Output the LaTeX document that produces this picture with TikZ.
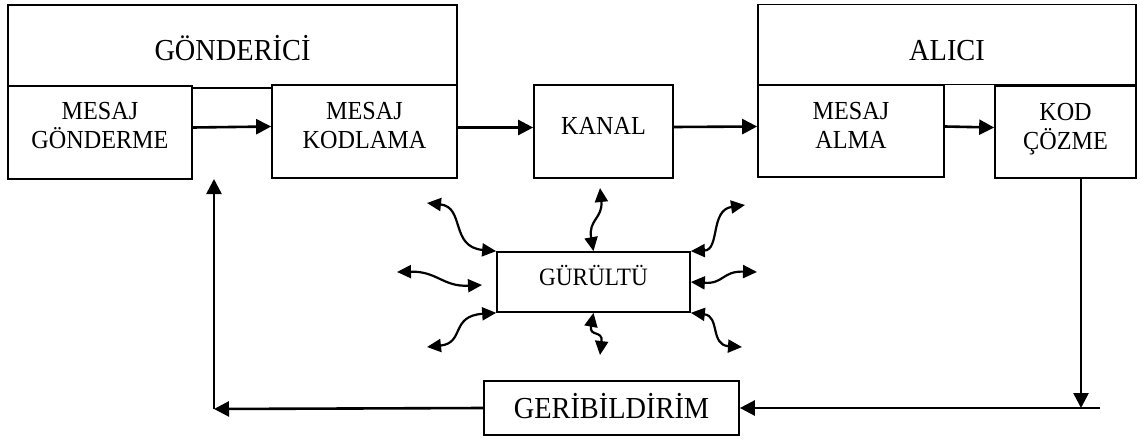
\documentclass[tikz,border=0pt]{standalone}
\usepackage{fontspec}
\setmainfont{Liberation Serif}[FakeStretch=0.93]
\usetikzlibrary{positioning,arrows.meta}

\begin{document}
\begin{tikzpicture}[
    x=1pt,y=-1pt,
    box/.style={rectangle,draw,line width=1.7pt,inner sep=0pt,align=center,font=\fontsize{26}{29}\selectfont},
    bigbox/.style={box,font=\fontsize{30.5}{34}\selectfont},
    arrow/.style={-{Triangle[length=15pt,width=15pt]},line width=2.6pt},
    noisy/.style={{Triangle[length=14pt,width=13pt]}-{Triangle[length=14pt,width=13pt]},line width=2.2pt},
]
\useasboundingbox (0,0) rectangle (1143,439);

% ===== Sender =====
\node[bigbox,minimum width=449pt,minimum height=83pt,text height=27pt,text depth=0pt] (sender) at (232.5,46.5) {GÖNDERİCİ};
\node[box,fill=white,minimum width=184pt,minimum height=93pt,text depth=14pt] (send) at (100,132.5) {MESAJ\\GÖNDERME};
\node[box,fill=white,minimum width=185pt,minimum height=93pt,text depth=12pt] (encode) at (364.5,131.5) {MESAJ\\KODLAMA};

% ===== Channel =====
\node[box,minimum width=139pt,minimum height=93pt,text height=17pt,text depth=12pt] (channel) at (603.5,131.5) {KANAL};

% ===== Receiver =====
\node[bigbox,minimum width=378pt,minimum height=80pt,text height=32pt,text depth=0pt] (receiver) at (947,44.5) {ALICI};
\node[box,fill=white,minimum width=186pt,minimum height=92pt,text depth=12pt] (receive) at (851,131) {MESAJ\\ALMA};
\node[box,fill=white,minimum width=141pt,minimum height=92pt,text depth=12pt] (decode) at (1065.5,132) {KOD\\ÇÖZME};

% ===== Noise and feedback =====
\node[box,font=\fontsize{25}{29}\selectfont,minimum width=193pt,minimum height=60pt,text height=16.5pt,text depth=9pt] (noise) at (593.5,282) {GÜRÜLTÜ};
\node[bigbox,minimum width=255pt,minimum height=54pt,text height=20pt,text depth=0pt] (feedback) at (611.5,408) {GERİBİLDİRİM};

% Main chain
\draw[arrow] ([yshift=5pt]send.east) -- ([yshift=5pt]encode.west);
\draw[arrow] ([yshift=4pt]encode.east) -- ([yshift=4pt]channel.west);
\draw[arrow] ([yshift=4.5pt]channel.east) -- ([yshift=4.5pt]receive.west);
\draw[arrow] ([yshift=4.5pt]receive.east) -- ([yshift=4.5pt]decode.west);

% Feedback loop
\coordinate (fbjoin) at (1081,408);
\coordinate (fbend) at (1100,408);
\coordinate (fbcorner) at (214,409);
\coordinate (fbtop) at (214,179);
\draw[arrow] ([xshift=15.5pt]decode.south) -- (fbjoin);
\draw[arrow] (fbend) -- (feedback.east);
\draw[arrow] (feedback.west) -- (fbcorner);
\draw[arrow] (fbcorner) -- (fbtop);

% Noise arrows (wavy)
\coordinate (n1) at (600,188);
\coordinate (n2) at (427,203);
\coordinate (n3) at (397,272);
\coordinate (n4) at (427,347);
\coordinate (n5) at (600,355);
\coordinate (n6) at (742,347);
\coordinate (n7) at (757,272);
\coordinate (n8) at (745,205);
\draw[noisy] (n1) .. controls (603,218) and (588,220) .. (noise.north);
\draw[noisy] (n2) .. controls (465,207) and (450,247) .. (noise.north west);
\draw[noisy] (n3) .. controls (437,271) and (443,287) .. (482,285);
\draw[noisy] (n4) .. controls (465,343) and (450,316) .. (noise.south west);
\draw[noisy] (noise.south) .. controls (589,337) and (603,330) .. (n5);
\draw[noisy] (noise.south east) .. controls (720,316) and (710,345) .. (n6);
\draw[noisy] (noise.east) .. controls (724,284) and (722,271) .. (n7);
\draw[noisy] (noise.north east) .. controls (720,250) and (710,210) .. (n8);

\end{tikzpicture}
\end{document}
